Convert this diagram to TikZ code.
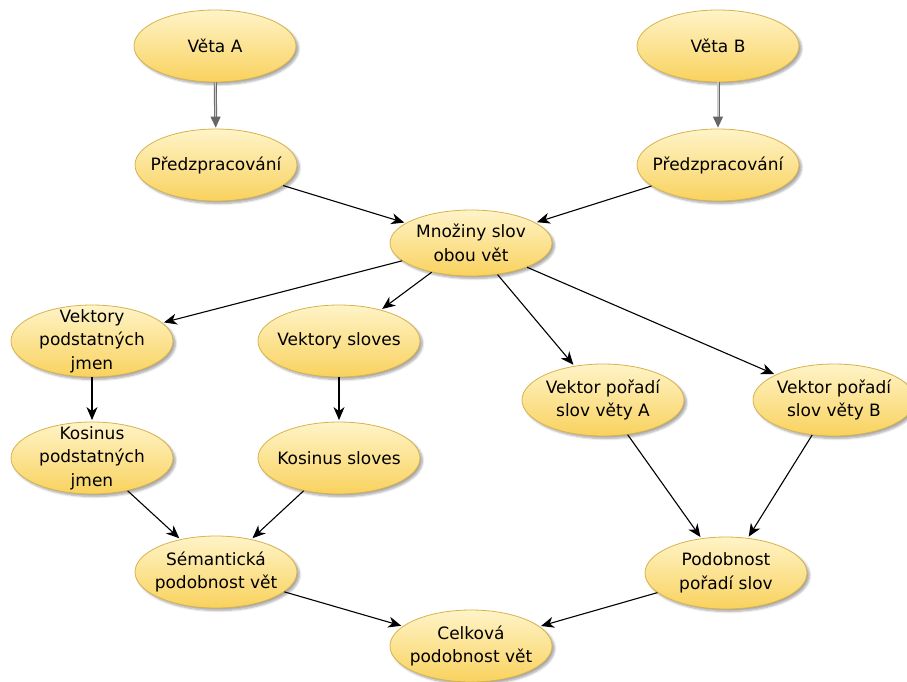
\documentclass[tikz,border=0pt]{standalone}
\usepackage{fontspec}
\setmainfont{DejaVu Sans}
\usetikzlibrary{arrows.meta}
\usetikzlibrary{shapes.geometric}
\usetikzlibrary{shadows.blur}

\definecolor{blobtop}{HTML}{FFF4C8}
\definecolor{blobbottom}{HTML}{F9D25E}
\definecolor{blobedge}{HTML}{D8B24C}

\begin{document}
\begin{tikzpicture}[x=1pt,y=-1pt,
    blob/.style={ellipse,draw=blobedge,line width=0.8pt,
      top color=blobtop,bottom color=blobbottom,
      minimum width=162pt,minimum height=72pt,
      inner xsep=-10pt,inner ysep=-14pt,
      align=center,font=\fontsize{17}{23.5}\selectfont,
      blur shadow={shadow xshift=2.5pt,shadow yshift=-2.5pt,
        shadow blur steps=6,shadow opacity=35}},
    tok/.style={-{Stealth[length=13pt,width=11pt,inset=4pt]},
      line width=1.1pt,shorten >=1.5pt},
    feed/.style={-{Triangle[length=11pt,width=10pt]},
      draw=gray!80!black,double=gray!40,double distance=1.2pt,
      line width=0.9pt,shorten >=1pt}
]
    \useasboundingbox (0,0) rectangle (907,681);

    \node[blob] (vetaA) at (215,46) {Věta A};
    \node[blob] (vetaB) at (718,46) {Věta B};
    \node[blob] (predA) at (216,165) {Předzpracování};
    \node[blob] (predB) at (718,165) {Předzpracování};
    \node[blob,minimum height=66pt] (mnoziny) at (471,243)
    {Množiny slov\\obou vět};

    \node[blob] (vekPodst) at (92,341) {Vektory\\podstatných\\jmen};
    \node[blob] (vekSlov) at (339,341) {Vektory sloves};
    \node[blob] (vekPorA) at (603,400) {Vektor pořadí\\slov věty A};
    \node[blob] (vekPorB) at (834,400) {Vektor pořadí\\slov věty B};

    \node[blob] (kosPodst) at (92,458) {Kosinus\\podstatných\\jmen};
    \node[blob] (kosSlov) at (339,458) {Kosinus sloves};

    \node[blob] (semPod) at (216,572) {Sémantická\\podobnost vět};
    \node[blob] (porPod) at (726,573) {Podobnost\\pořadí slov};
    \node[blob] (celkova) at (471,646) {Celková\\podobnost vět};

    \draw[feed] (vetaA) -- (predA);
    \draw[feed] (vetaB) -- (predB);

    \draw[tok] (predA) -- (mnoziny);
    \draw[tok] (predB) -- (mnoziny);

    \draw[tok] (mnoziny) -- (vekPodst);
    \draw[tok] (mnoziny) -- (vekSlov);
    \draw[tok] (mnoziny) -- (vekPorA);
    \draw[tok] (mnoziny) -- (vekPorB);

    \draw[tok] (vekPodst) -- (kosPodst);
    \draw[tok] (vekSlov) -- (kosSlov);

    \draw[tok] (kosPodst) -- (semPod);
    \draw[tok] (kosSlov) -- (semPod);
    \draw[tok] (vekPorA) -- (porPod);
    \draw[tok] (vekPorB) -- (porPod);

    \draw[tok] (semPod) -- (celkova);
    \draw[tok] (porPod) -- (celkova);
\end{tikzpicture}
\end{document}
